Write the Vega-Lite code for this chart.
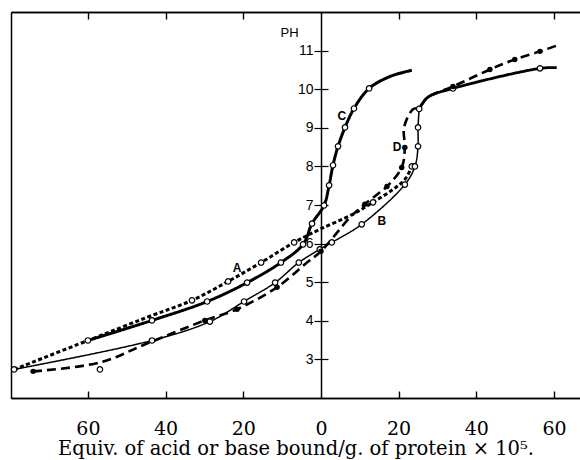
{
  "$schema": "https://vega.github.io/schema/vega-lite/v6.json",
  "width": 569,
  "height": 386,
  "autosize": "none",
  "padding": {"left": 11, "top": 12, "right": 0, "bottom": 62},
  "background": "white",
  "config": {"view": {"stroke": null}},
  "datasets": {
    "curves": [
      {"s": "A", "i": 1, "x": -79.0, "y": 2.74, "m": "o"},
      {"s": "A", "i": 2, "x": -60.0, "y": 3.49, "m": "o"},
      {"s": "A", "i": 3, "x": -44.8, "y": 4.09, "m": ""},
      {"s": "A", "i": 4, "x": -33.2, "y": 4.53, "m": "o"},
      {"s": "A", "i": 5, "x": -23.9, "y": 5.02, "m": "o"},
      {"s": "A", "i": 6, "x": -15.4, "y": 5.51, "m": "o"},
      {"s": "A", "i": 7, "x": -6.9, "y": 6.03, "m": "o"},
      {"s": "A", "i": 8, "x": -0.3, "y": 6.37, "m": ""},
      {"s": "A", "i": 9, "x": 8.2, "y": 6.76, "m": ""},
      {"s": "A", "i": 10, "x": 13.4, "y": 7.07, "m": "o"},
      {"s": "A", "i": 11, "x": 18.5, "y": 7.40, "m": ""},
      {"s": "A", "i": 12, "x": 21.6, "y": 7.66, "m": ""},
      {"s": "A", "i": 13, "x": 23.4, "y": 8.0, "m": "o"},
      {"s": "C", "i": 1, "x": -60.0, "y": 3.49, "m": ""},
      {"s": "C", "i": 2, "x": -43.5, "y": 4.01, "m": "o"},
      {"s": "C", "i": 3, "x": -29.3, "y": 4.50, "m": "o"},
      {"s": "C", "i": 4, "x": -19.0, "y": 4.99, "m": "o"},
      {"s": "C", "i": 5, "x": -10.3, "y": 5.51, "m": "o"},
      {"s": "C", "i": 6, "x": -4.6, "y": 5.98, "m": "o"},
      {"s": "C", "i": 7, "x": -2.3, "y": 6.52, "m": "o"},
      {"s": "C", "i": 8, "x": 0.8, "y": 6.99, "m": "o"},
      {"s": "C", "i": 9, "x": 2.1, "y": 7.51, "m": "o"},
      {"s": "C", "i": 10, "x": 3.1, "y": 8.03, "m": "o"},
      {"s": "C", "i": 11, "x": 4.4, "y": 8.52, "m": "o"},
      {"s": "C", "i": 12, "x": 6.2, "y": 9.01, "m": "o"},
      {"s": "C", "i": 13, "x": 8.5, "y": 9.50, "m": "o"},
      {"s": "C", "i": 14, "x": 12.4, "y": 10.02, "m": "o"},
      {"s": "C", "i": 15, "x": 17.8, "y": 10.33, "m": ""},
      {"s": "C", "i": 16, "x": 23.4, "y": 10.49, "m": ""},
      {"s": "B", "i": 1, "x": -79.0, "y": 2.74, "m": ""},
      {"s": "B", "i": 2, "x": -43.5, "y": 3.49, "m": "o"},
      {"s": "B", "i": 3, "x": -28.6, "y": 3.98, "m": "o"},
      {"s": "B", "i": 4, "x": -19.8, "y": 4.50, "m": "o"},
      {"s": "B", "i": 5, "x": -11.8, "y": 4.99, "m": "o"},
      {"s": "B", "i": 6, "x": -5.7, "y": 5.51, "m": "o"},
      {"s": "B", "i": 7, "x": -0.3, "y": 5.85, "m": "o"},
      {"s": "B", "i": 8, "x": 2.8, "y": 6.03, "m": "o"},
      {"s": "B", "i": 9, "x": 10.5, "y": 6.50, "m": "o"},
      {"s": "B", "i": 10, "x": 21.6, "y": 7.53, "m": "o"},
      {"s": "B", "i": 11, "x": 24.2, "y": 8.0, "m": "o"},
      {"s": "B", "i": 12, "x": 25.0, "y": 8.52, "m": "o"},
      {"s": "B", "i": 13, "x": 25.0, "y": 9.01, "m": "o"},
      {"s": "B", "i": 14, "x": 25.3, "y": 9.49, "m": "o"},
      {"s": "B2", "i": 1, "x": 25.3, "y": 9.49, "m": ""},
      {"s": "B2", "i": 2, "x": 27.5, "y": 9.79, "m": ""},
      {"s": "B2", "i": 3, "x": 34.0, "y": 10.02, "m": "o"},
      {"s": "B2", "i": 4, "x": 56.4, "y": 10.54, "m": "o"},
      {"s": "B2", "i": 5, "x": 60.7, "y": 10.56, "m": ""},
      {"s": "D", "i": 1, "x": -74.1, "y": 2.69, "m": "f"},
      {"s": "D", "i": 2, "x": -56.9, "y": 2.92, "m": ""},
      {"s": "D", "i": 3, "x": -44.8, "y": 3.41, "m": ""},
      {"s": "D", "i": 4, "x": -29.9, "y": 4.01, "m": "f"},
      {"s": "D", "i": 5, "x": -21.6, "y": 4.30, "m": "f"},
      {"s": "D", "i": 6, "x": -11.3, "y": 4.87, "m": "f"},
      {"s": "D", "i": 7, "x": -3.6, "y": 5.51, "m": ""},
      {"s": "D", "i": 8, "x": 0.0, "y": 5.80, "m": "f"},
      {"s": "D", "i": 9, "x": 7.5, "y": 6.68, "m": ""},
      {"s": "D", "i": 10, "x": 11.3, "y": 7.02, "m": "f"},
      {"s": "D", "i": 11, "x": 15.2, "y": 7.33, "m": ""},
      {"s": "D", "i": 12, "x": 17.0, "y": 7.48, "m": "f"},
      {"s": "D", "i": 13, "x": 20.8, "y": 7.97, "m": "f"},
      {"s": "D", "i": 14, "x": 21.6, "y": 8.49, "m": "f"},
      {"s": "D", "i": 15, "x": 21.4, "y": 9.01, "m": ""},
      {"s": "D", "i": 16, "x": 23.7, "y": 9.48, "m": ""},
      {"s": "D", "i": 17, "x": 25.3, "y": 9.53, "m": ""},
      {"s": "D", "i": 18, "x": 27.5, "y": 9.79, "m": ""},
      {"s": "D", "i": 19, "x": 34.0, "y": 10.07, "m": "f"},
      {"s": "D", "i": 20, "x": 43.5, "y": 10.51, "m": "f"},
      {"s": "D", "i": 21, "x": 49.9, "y": 10.77, "m": "f"},
      {"s": "D", "i": 22, "x": 56.4, "y": 10.98, "m": "f"},
      {"s": "D", "i": 23, "x": 60.7, "y": 11.13, "m": ""},
      {"s": "E", "i": 1, "x": -56.9, "y": 2.74, "m": "o"}
    ],
    "labels": [
      {"t": "A", "x": -21.6, "y": 5.38},
      {"t": "B", "x": 15.7, "y": 6.58},
      {"t": "C", "x": 5.4, "y": 9.30},
      {"t": "D", "x": 19.6, "y": 8.49}
    ]
  },
  "resolve": {"axis": {"x": "independent", "y": "independent"}},
  "layer": [
    {
      "data": {"name": "curves"},
      "transform": [{"filter": "datum.s != 'E'"}],
      "mark": {"type": "line", "interpolate": "catmull-rom", "color": "black", "strokeCap": "butt"},
      "encoding": {
        "x": {
          "field": "x", "type": "quantitative",
          "scale": {"domain": [-79.8, 66.7], "nice": false, "zero": false},
          "axis": {
            "orient": "bottom", "values": [-60, -40, -20, 0, 20, 40, 60],
            "labelExpr": "'' + abs(datum.value)", "grid": false,
            "ticks": true, "tickSize": 0, "tickOpacity": 0,
            "domainColor": "black", "domainWidth": 1.5,
            "labelFont": "DejaVu Serif", "labelFontSize": 19, "labelColor": "black",
            "labelPadding": 21, "labelFlush": false,
            "title": "Equiv. of acid or base bound/g. of protein × 10⁵.",
            "titleFont": "DejaVu Serif", "titleFontSize": 19.5, "titleFontWeight": "normal",
            "titleColor": "black", "titlePadding": 1
          }
        },
        "y": {
          "field": "y", "type": "quantitative",
          "scale": {"domain": [2, 12], "nice": false, "zero": false},
          "axis": {
            "orient": "left", "offset": -310, "values": [3, 4, 5, 6, 7, 8, 9, 10, 11],
            "grid": false, "tickSize": 7, "tickColor": "black", "tickWidth": 1.2,
            "domainColor": "black", "domainWidth": 1.5,
            "labelFont": "Liberation Sans", "labelFontSize": 14, "labelColor": "black",
            "labelPadding": 1, "labelFlush": false,
            "title": "PH", "titleAngle": 0, "titleX": -32, "titleY": 20,
            "titleAlign": "center", "titleBaseline": "middle",
            "titleFont": "Liberation Sans", "titleFontSize": 13, "titleFontWeight": "normal", "titleColor": "black"
          }
        },
        "order": {"field": "i", "type": "quantitative"},
        "detail": {"field": "s", "type": "nominal"},
        "strokeDash": {"field": "s", "type": "nominal", "scale": {"type": "ordinal", "domain": ["A", "B", "B2", "C", "D"], "range": [[4, 2.5], [1, 0], [1, 0], [1, 0], [9, 5]]}, "legend": null},
        "strokeWidth": {"field": "s", "type": "nominal", "scale": {"type": "ordinal", "domain": ["A", "B", "B2", "C", "D"], "range": [3, 1.5, 2.8, 3, 2.6]}, "legend": null}
      }
    },
    {
      "data": {"name": "curves"},
      "transform": [{"filter": "datum.m == 'o'"}],
      "mark": {"type": "point", "shape": "circle", "filled": true, "fill": "white", "stroke": "black", "strokeWidth": 1.2, "size": 30, "opacity": 1},
      "encoding": {
        "x": {
          "field": "x", "type": "quantitative",
          "axis": {"orient": "top", "offset": 0, "values": [-60, -40, -20, 20, 40, 60], "labels": false, "grid": false,
                   "ticks": true, "tickSize": 0, "tickOpacity": 0,
                   "domain": true, "domainColor": "black", "domainWidth": 1.5, "title": null}
        },
        "y": {
          "field": "y", "type": "quantitative",
          "axis": {"orient": "right", "offset": -259, "values": [3, 4, 5, 6, 7, 8, 9, 10, 11],
                   "labels": false, "domain": false, "grid": false, "tickSize": 7, "tickColor": "black", "tickWidth": 1.2, "title": null}
        }
      }
    },
    {
      "data": {"name": "curves"},
      "transform": [{"filter": "datum.m == 'f'"}],
      "mark": {"type": "point", "shape": "circle", "filled": true, "color": "black", "size": 30, "opacity": 1},
      "encoding": {
        "x": {
          "field": "x", "type": "quantitative",
          "axis": {"orient": "top", "offset": -386, "values": [-60, -40, -20, 20, 40, 60],
                   "labels": true, "labelOpacity": 0, "labelColor": "white", "grid": false,
                   "domain": true, "domainColor": "black", "domainWidth": 1.5,
                   "ticks": true, "tickSize": 7, "tickOpacity": 1, "tickColor": "black", "tickWidth": 1.4, "title": null}
        },
        "y": {
          "field": "y", "type": "quantitative",
          "axis": {"orient": "left", "offset": 0, "labels": false, "ticks": false, "grid": false,
                   "domain": true, "domainColor": "black", "domainWidth": 1.5, "title": null}
        }
      }
    },
    {
      "data": {"name": "labels"},
      "mark": {"type": "text", "font": "Liberation Sans", "fontSize": 12, "fontWeight": "bold", "color": "black", "align": "center", "baseline": "middle"},
      "encoding": {
        "x": {
          "field": "x", "type": "quantitative",
          "axis": {"orient": "bottom", "offset": -386, "values": [-60, -40, -20, 20, 40, 60],
                   "labels": true, "labelOpacity": 0, "labelColor": "white", "grid": false,
                   "domain": true, "domainColor": "black", "domainWidth": 1.5,
                   "ticks": true, "tickSize": 7, "tickOpacity": 1, "tickColor": "black", "tickWidth": 1.4, "title": null}
        },
        "y": {"field": "y", "type": "quantitative", "axis": null},
        "text": {"field": "t", "type": "nominal"}
      }
    }
  ]
}
